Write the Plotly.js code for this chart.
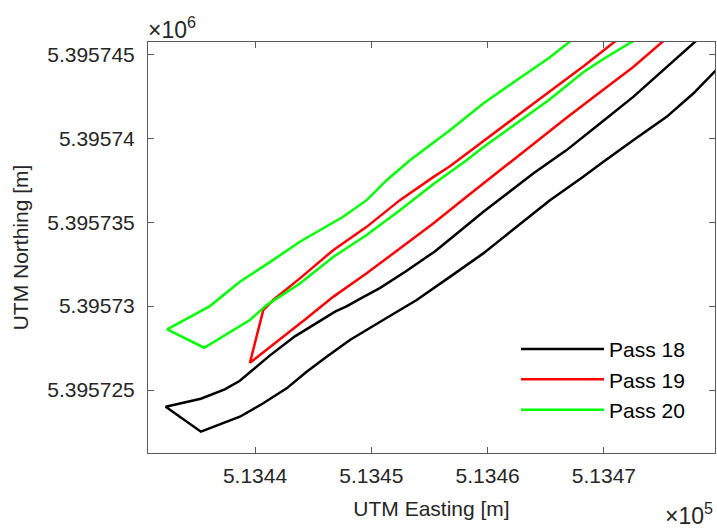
<!DOCTYPE html>
<html>
<head>
<meta charset="utf-8">
<script src="https://cdn.plot.ly/plotly-3.0.1.min.js"></script>
<style>
  html, body { margin: 0; padding: 0; background: #fff; }
  #chart { width: 717px; height: 530px; }
</style>
</head>
<body>
<div id="chart"></div>
<script>
// Pass 18 (black) – easting / northing [m]
const pass18_E = [513478.17, 513475.39, 513472.52, 513469.66, 513466.79, 513463.92, 513460.91, 513459.61,
  513457.70, 513455.49, 513452.95, 513450.73, 513449.14, 513447.87, 513446.92, 513445.01, 513443.43,
  513441.21, 513439.62, 513438.67, 513437.40, 513435.34, 513432.32,
  513435.35, 513438.70, 513440.71, 513442.72, 513444.44, 513446.16,
  513448.16, 513451.02, 513453.90, 513456.76, 513459.62, 513461.06, 513465.36, 513468.22, 513469.66,
  513472.52, 513475.39, 513477.68, 513479.97];
const pass18_N = [5395745.95, 5395744.24, 5395742.46, 5395740.88, 5395739.29, 5395737.90, 5395736.31, 5395735.60,
  5395734.52, 5395733.27, 5395732.06, 5395731.07, 5395730.48, 5395729.98, 5395729.68, 5395728.89, 5395728.20,
  5395727.02, 5395726.12, 5395725.54, 5395725.04, 5395724.48, 5395724.01,
  5395722.52, 5395723.41, 5395724.21, 5395725.10, 5395726.09, 5395726.98,
  5395727.98, 5395729.17, 5395730.36, 5395731.74, 5395733.14, 5395733.93, 5395736.31, 5395737.70, 5395738.45,
  5395739.88, 5395741.27, 5395742.66, 5395744.29];

// Pass 19 (red)
const pass19_E = [513471.29, 513468.22, 513465.36, 513462.49, 513459.62, 513456.76, 513455.32, 513452.46,
  513449.60, 513446.72, 513443.86, 513441.56, 513440.71, 513439.56, 513444.44, 513446.72, 513449.60,
  513452.46, 513455.32, 513458.19, 513461.06, 513463.92, 513466.79, 513469.66, 513472.52, 513475.33];
const pass19_N = [5395745.95, 5395744.27, 5395742.80, 5395741.31, 5395739.82, 5395738.33, 5395737.68, 5395736.31,
  5395734.72, 5395733.33, 5395731.65, 5395730.36, 5395729.76, 5395726.62, 5395729.27, 5395730.55, 5395731.95,
  5395733.43, 5395734.92, 5395736.51, 5395738.10, 5395739.64, 5395741.22, 5395742.74, 5395744.24, 5395745.92];

// Pass 20 (green)
const pass20_E = [513467.42, 513465.36, 513462.49, 513459.62, 513456.76, 513453.32, 513451.32, 513449.60,
  513447.58, 513443.86, 513441.28, 513438.70, 513436.12, 513432.45, 513435.63, 513439.56, 513441.00,
  513443.86, 513446.72, 513449.60, 513452.46, 513455.32, 513458.19, 513459.62, 513462.49, 513465.36,
  513468.22, 513470.23, 513472.84];
const pass20_N = [5395745.95, 5395744.82, 5395743.45, 5395742.07, 5395740.48, 5395738.69, 5395737.50, 5395736.31,
  5395735.32, 5395733.83, 5395732.62, 5395731.45, 5395730.00, 5395728.61, 5395727.52, 5395729.17, 5395730.06,
  5395731.35, 5395732.93, 5395734.23, 5395735.71, 5395737.26, 5395738.69, 5395739.46, 5395740.89, 5395742.32,
  5395743.93, 5395744.84, 5395745.92];

const xTickVals = [513440, 513450, 513460, 513470];
const xTickText = ['5.1344', '5.1345', '5.1346', '5.1347'];
const yTickVals = [5395725, 5395730, 5395735, 5395740, 5395745];
const yTickText = ['5.395725', '5.39573', '5.395735', '5.39574', '5.395745'];

const FONT = 'Liberation Sans, Arial, Helvetica, sans-serif';
const TXT = '#262626';
const AXL = '#595959';

const traces = [
  {x: pass18_E, y: pass18_N, name: 'Pass 18', mode: 'lines', line: {color: '#000000', width: 2.5}},
  {x: pass19_E, y: pass19_N, name: 'Pass 19', mode: 'lines', line: {color: '#ff0000', width: 2.5}},
  {x: pass20_E, y: pass20_N, name: 'Pass 20', mode: 'lines', line: {color: '#00ff00', width: 2.5}}
];

const layout = {
  width: 717, height: 530,
  margin: {l: 148, r: 2, t: 42, b: 77, autoexpand: false},
  paper_bgcolor: '#ffffff', plot_bgcolor: '#ffffff',
  font: {family: FONT, size: 21, color: TXT},
  showlegend: true,
  legend: {
    x: 0.649, y: 0.302, xanchor: 'left', yanchor: 'top',
    bgcolor: 'rgba(255,255,255,0)', borderwidth: 0,
    font: {family: FONT, size: 21, color: '#000000'},
    itemwidth: 83, tracegroupgap: 0
  },
  xaxis: {
    range: [513430.8, 513479.55], autorange: false,
    tickmode: 'array', tickvals: xTickVals, ticktext: xTickText,
    ticks: 'inside', ticklen: 6, tickcolor: AXL, tickwidth: 1,
    showline: true, linecolor: AXL, linewidth: 1, mirror: 'ticks',
    showgrid: false, zeroline: false,
    tickfont: {family: FONT, size: 21, color: TXT},
    ticklabelstandoff: 4,
    title: {text: 'UTM Easting [m]', font: {family: FONT, size: 21, color: TXT}, standoff: 15}
  },
  yaxis: {
    range: [5395721.25, 5395745.73], autorange: false,
    tickmode: 'array', tickvals: yTickVals, ticktext: yTickText,
    ticks: 'inside', ticklen: 6, tickcolor: AXL, tickwidth: 1,
    showline: true, linecolor: AXL, linewidth: 1, mirror: 'ticks',
    showgrid: false, zeroline: false,
    tickfont: {family: FONT, size: 21, color: TXT},
    ticklabelstandoff: 8,
    title: {text: 'UTM Northing [m]', font: {family: FONT, size: 21, color: TXT}, standoff: 12}
  },
  annotations: [
    {xref: 'paper', yref: 'paper', x: 0, y: 1, xanchor: 'left', yanchor: 'bottom', yshift: -3, xshift: -2,
     text: '×10<sup>6</sup>', showarrow: false, font: {family: FONT, size: 23, color: TXT}},
    {xref: 'paper', yref: 'paper', x: 1, y: -0.19, xanchor: 'right', yanchor: 'bottom',
     text: '×10<sup>5</sup>', showarrow: false, font: {family: FONT, size: 23, color: TXT}}
  ]
};

Plotly.newPlot('chart', traces, layout, {staticPlot: true, displayModeBar: false});
</script>
</body>
</html>
